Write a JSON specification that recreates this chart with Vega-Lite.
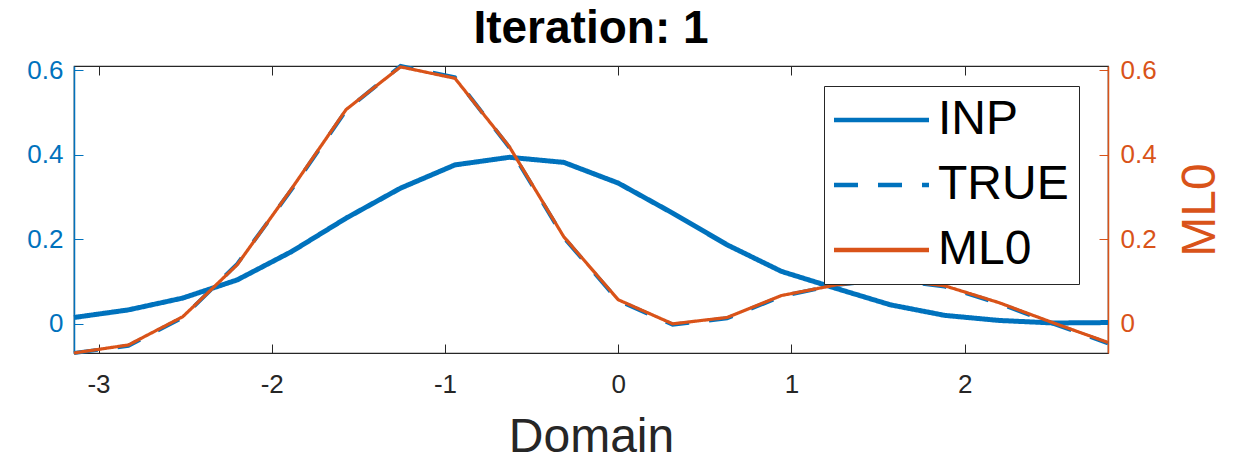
{
  "$schema": "https://vega.github.io/schema/vega-lite/v6.json",
  "width": 1034,
  "height": 287,
  "autosize": {"type": "none"},
  "padding": {"left": 74, "top": 66, "right": 137, "bottom": 107},
  "background": "white",
  "config": {
    "font": "Liberation Sans",
    "view": {"stroke": "#262626", "strokeWidth": 1.2},
    "legend": {
      "orient": "none",
      "legendX": 750,
      "legendY": 20,
      "title": null,
      "fillColor": "white",
      "strokeColor": "#262626",
      "padding": 10,
      "symbolType": "M-4.8,0H14.2",
      "symbolSize": 100,
      "symbolStrokeWidth": 4.5,
      "symbolFillColor": "transparent",
      "labelFontSize": 48,
      "labelFont": "Liberation Sans",
      "labelColor": "black",
      "labelOffset": 56,
      "rowPadding": 17
    }
  },
  "title": {
    "text": "Iteration: 1",
    "fontSize": 46,
    "fontWeight": "bold",
    "font": "Liberation Sans",
    "color": "black",
    "anchor": "middle",
    "offset": 4
  },
  "data": {
    "values": [
      {"x": -3.1416, "INP": 0.015, "TRUE": -0.069, "ML0": -0.069},
      {"x": -2.8274, "INP": 0.033, "TRUE": -0.052, "ML0": -0.050},
      {"x": -2.5133, "INP": 0.061, "TRUE": 0.015, "ML0": 0.017},
      {"x": -2.1991, "INP": 0.104, "TRUE": 0.142, "ML0": 0.140},
      {"x": -1.8850, "INP": 0.171, "TRUE": 0.318, "ML0": 0.320},
      {"x": -1.5708, "INP": 0.250, "TRUE": 0.505, "ML0": 0.507},
      {"x": -1.2566, "INP": 0.321, "TRUE": 0.610, "ML0": 0.608},
      {"x": -0.9425, "INP": 0.376, "TRUE": 0.583, "ML0": 0.581},
      {"x": -0.6283, "INP": 0.394, "TRUE": 0.417, "ML0": 0.419},
      {"x": -0.3142, "INP": 0.382, "TRUE": 0.204, "ML0": 0.206},
      {"x": 0.0, "INP": 0.333, "TRUE": 0.055, "ML0": 0.057},
      {"x": 0.3142, "INP": 0.262, "TRUE": -0.002, "ML0": 0.000},
      {"x": 0.6283, "INP": 0.187, "TRUE": 0.013, "ML0": 0.015},
      {"x": 0.9425, "INP": 0.124, "TRUE": 0.065, "ML0": 0.067},
      {"x": 1.2566, "INP": 0.084, "TRUE": 0.092, "ML0": 0.092},
      {"x": 1.5708, "INP": 0.045, "TRUE": 0.105, "ML0": 0.105},
      {"x": 1.8850, "INP": 0.020, "TRUE": 0.088, "ML0": 0.090},
      {"x": 2.1991, "INP": 0.008, "TRUE": 0.048, "ML0": 0.050},
      {"x": 2.5133, "INP": 0.002, "TRUE": 0.000, "ML0": 0.002},
      {"x": 2.8274, "INP": 0.003, "TRUE": -0.046, "ML0": -0.044}
    ]
  },
  "transform": [
    {"fold": ["INP", "TRUE", "ML0"], "as": ["series", "y"]}
  ],
  "layer": [
    {
      "layer": [
        {
          "transform": [{"filter": "datum.series === 'INP'"}],
          "mark": {"type": "line", "strokeWidth": 5}
        },
        {
          "transform": [{"filter": "datum.series === 'TRUE'"}],
          "mark": {"type": "line", "strokeWidth": 4}
        }
      ],
      "encoding": {
        "x": {
          "field": "x",
          "type": "quantitative",
          "scale": {"domain": [-3.1416, 2.8274], "nice": false, "zero": false},
          "axis": {
            "orient": "bottom",
            "values": [-3, -2, -1, 0, 1, 2],
            "labelExpr": "datum.value < 0 ? '-' + (-datum.value) : '' + datum.value",
            "title": "Domain",
            "titleFontSize": 48,
            "titleFontWeight": "normal",
            "titleColor": "#262626",
            "titlePadding": 16,
            "labelFontSize": 26,
            "labelColor": "#262626",
            "labelPadding": 27,
            "domainColor": "#262626",
            "domainWidth": 1.2,
            "tickColor": "#262626",
            "tickSize": -9,
            "grid": false
          }
        },
        "y": {
          "field": "y",
          "type": "quantitative",
          "scale": {"domain": [-0.069, 0.61], "nice": false, "zero": false},
          "axis": {
            "orient": "left",
            "values": [0, 0.2, 0.4, 0.6],
            "format": "~g",
            "title": null,
            "labelFontSize": 26,
            "labelColor": "#0072BD",
            "labelPadding": 20,
            "domainColor": "#0072BD",
            "domainWidth": 1.5,
            "tickColor": "#0072BD",
            "tickSize": -9,
            "grid": false
          }
        },
        "color": {
          "field": "series",
          "type": "nominal",
          "scale": {"domain": ["INP", "TRUE", "ML0"], "range": ["#0072BD", "#0072BD", "#D95319"]}
        },
        "strokeDash": {
          "field": "series",
          "type": "nominal",
          "scale": {"domain": ["INP", "TRUE", "ML0"], "range": [[1, 0], [24, 20], [1, 0]]}
        }
      }
    },
    {
      "transform": [{"filter": "datum.series === 'ML0'"}],
      "mark": {"type": "line", "strokeWidth": 3.2},
      "encoding": {
        "x": {
          "field": "x",
          "type": "quantitative",
          "axis": {
            "orient": "top",
            "values": [-3, -2, -1, 0, 1, 2],
            "labels": false,
            "title": null,
            "domain": false,
            "tickColor": "#262626",
            "tickSize": -9,
            "grid": false
          }
        },
        "y": {
          "field": "y",
          "type": "quantitative",
          "scale": {"domain": [-0.069, 0.61], "nice": false, "zero": false},
          "axis": {
            "orient": "right",
            "values": [0, 0.2, 0.4, 0.6],
            "format": "~g",
            "title": "ML0",
            "titleAngle": 270,
            "titleBaseline": "top",
            "titleFontSize": 48,
            "titleFontWeight": "normal",
            "titleColor": "#D95319",
            "titlePadding": 20,
            "labelFontSize": 26,
            "labelColor": "#D95319",
            "labelPadding": 21,
            "domainColor": "#D95319",
            "domainWidth": 1.5,
            "tickColor": "#D95319",
            "tickSize": -9,
            "grid": false
          }
        },
        "color": {
          "field": "series",
          "type": "nominal",
          "scale": {"domain": ["INP", "TRUE", "ML0"], "range": ["#0072BD", "#0072BD", "#D95319"]}
        },
        "strokeDash": {
          "field": "series",
          "type": "nominal",
          "scale": {"domain": ["INP", "TRUE", "ML0"], "range": [[1, 0], [24, 20], [1, 0]]}
        }
      }
    }
  ],
  "resolve": {"scale": {"y": "independent"}, "axis": {"x": "independent"}}
}
